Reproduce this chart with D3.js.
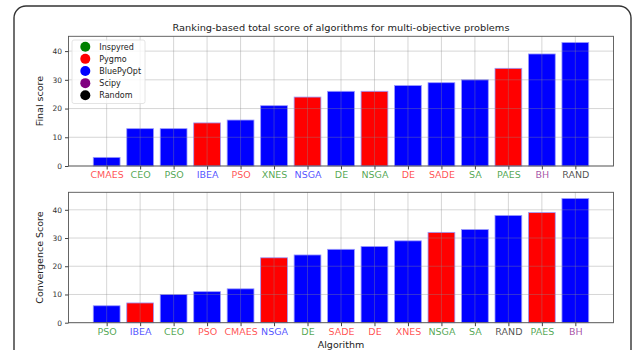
<!DOCTYPE html>
<html><head><meta charset="utf-8">
<script src="https://cdn.jsdelivr.net/npm/d3@7"></script>
<style>body{margin:0;background:#fff;}svg{display:block;font-family:"DejaVu Sans",sans-serif;}</style>
</head><body>
<script>
// ---- data ----
const topLabels = ["CMAES","CEO","PSO","IBEA","PSO","XNES","NSGA","DE","NSGA","DE","SADE","SA","PAES","BH","RAND"];
const topValues = [3,13,13,15,16,21,24,26,26,28,29,30,34,39,43];
const topBarLib = ["BluePyOpt","BluePyOpt","BluePyOpt","Pygmo","BluePyOpt","BluePyOpt","Pygmo","BluePyOpt","Pygmo","BluePyOpt","BluePyOpt","BluePyOpt","Pygmo","BluePyOpt","BluePyOpt"];
const topLabelLib = ["Pygmo","Inspyred","Inspyred","BluePyOpt","Pygmo","Inspyred","BluePyOpt","Inspyred","Inspyred","Pygmo","Pygmo","Inspyred","Inspyred","Scipy","Random"];

const botLabels = ["PSO","IBEA","CEO","PSO","CMAES","NSGA","DE","SADE","DE","XNES","NSGA","SA","RAND","PAES","BH"];
const botValues = [6,7,10,11,12,23,24,26,27,29,32,33,38,39,44];
const botBarLib = ["BluePyOpt","Pygmo","BluePyOpt","BluePyOpt","BluePyOpt","Pygmo","BluePyOpt","BluePyOpt","BluePyOpt","BluePyOpt","Pygmo","BluePyOpt","BluePyOpt","Pygmo","BluePyOpt"];
const botLabelLib = ["Inspyred","BluePyOpt","Inspyred","Pygmo","Pygmo","BluePyOpt","Inspyred","Pygmo","Pygmo","Pygmo","Inspyred","Inspyred","Random","Inspyred","Scipy"];

const libraries = ["Inspyred","Pygmo","BluePyOpt","Scipy","Random"];
const libColors = ["#008000","#ff0000","#0000ff","#800080","#000000"];
const yTicks = [0,10,20,30,40];

const title = "Ranking-based total score of algorithms for multi-objective problems";
const topYLabel = "Final score";
const botYLabel = "Convergence Score";
const xLabel = "Algorithm";

// ---- drawing ----
const W = 633, H = 350;
const color = d3.scaleOrdinal().domain(libraries).range(libColors);
const svg = d3.select("body").append("svg").attr("width", W).attr("height", H);

// outer frame
svg.append("rect").attr("x",14).attr("y",6).attr("width",617).attr("height",370)
  .attr("rx",12).attr("ry",12).attr("fill","none").attr("stroke","#333").attr("stroke-width",1.4);

const left = 68.5, right = 613.5;
const x = d3.scaleLinear().domain([-1.14, 14 + 1.14]).range([left, right]);

function panel(labels, values, barLib, labelLib, top, bottom, yLabel) {
  const ymax = d3.max(values) * 1.05;
  const y = d3.scaleLinear().domain([0, ymax]).range([bottom, top]);
  const g = svg.append("g");
  const idx = d3.range(labels.length);
  // bars
  g.selectAll("rect.bar").data(idx).join("rect")
    .attr("x", i => x(i - 0.4)).attr("width", x(0.4) - x(-0.4))
    .attr("y", i => y(values[i])).attr("height", i => y(0) - y(values[i]))
    .attr("fill", i => color(barLib[i]))
    .attr("stroke", "#9a9aff").attr("stroke-width", 0.8);
  // grid (over bars)
  g.selectAll("line.vg").data(idx).join("line")
    .attr("x1", i => x(i)).attr("x2", i => x(i)).attr("y1", top).attr("y2", bottom)
    .attr("stroke", "rgba(140,140,140,0.45)").attr("stroke-width", 0.8);
  g.selectAll("line.hg").data(yTicks).join("line")
    .attr("x1", left).attr("x2", right).attr("y1", d => y(d)).attr("y2", d => y(d))
    .attr("stroke", "rgba(140,140,140,0.45)").attr("stroke-width", 0.8);
  // spines
  g.append("rect").attr("x", left).attr("y", top).attr("width", right-left).attr("height", bottom-top)
    .attr("fill","none").attr("stroke","#555").attr("stroke-width",0.9);
  // y axis
  const ya = g.append("g").attr("transform", `translate(${left},0)`)
    .call(d3.axisLeft(y).tickValues(yTicks).tickSize(3.5).tickPadding(3).tickFormat(d3.format("d")));
  ya.select(".domain").remove();
  ya.selectAll("line").attr("stroke","#444");
  ya.selectAll("text").attr("font-size","7.5px").attr("fill","#333").attr("font-family","DejaVu Sans");
  // x axis
  const xa = g.append("g").attr("transform", `translate(0,${bottom})`)
    .call(d3.axisBottom(x).tickValues(idx).tickSize(3.5).tickPadding(2).tickFormat(i => labels[i]));
  xa.select(".domain").remove();
  xa.selectAll("line").attr("stroke","#444");
  xa.selectAll("text").attr("font-size","9.5px").attr("font-family","DejaVu Sans")
    .attr("fill", i => color(labelLib[i])).attr("fill-opacity", 0.7);
  // y label
  svg.append("text").attr("transform", `translate(43,${(top+bottom)/2}) rotate(-90)`)
    .attr("text-anchor","middle").attr("font-size","9.5px").attr("fill","#222").text(yLabel);
  return y;
}

panel(topLabels, topValues, topBarLib, topLabelLib, 36.3, 166, topYLabel);
panel(botLabels, botValues, botBarLib, botLabelLib, 192.3, 322.7, botYLabel);

// title
svg.append("text").attr("x", (left+right)/2).attr("y", 31).attr("text-anchor","middle")
  .attr("font-size","9px").attr("fill","#222")
  .attr("textLength", 337).attr("lengthAdjust","spacingAndGlyphs").text(title);
// x label
svg.append("text").attr("x", (left+right)/2).attr("y", 347.5).attr("text-anchor","middle")
  .attr("font-size","9.5px").attr("fill","#222").text(xLabel);

// legend
const lg = svg.append("g");
lg.append("rect").attr("x",72).attr("y",40).attr("width",73).attr("height",63.5).attr("rx",2)
  .attr("fill","rgba(255,255,255,0.8)").attr("stroke","#ddd").attr("stroke-width",0.8);
const ly = d3.scalePoint().domain(libraries).range([46.7, 95.3]);
lg.selectAll("circle").data(libraries).join("circle")
  .attr("cx",85.3).attr("cy", d => ly(d)).attr("r",5).attr("fill", d => color(d));
lg.selectAll("text").data(libraries).join("text")
  .attr("x",99.3).attr("y", d => ly(d)).attr("dy","0.35em").attr("font-size","8px").attr("fill","#222").text(d => d);
</script>
</body></html>
